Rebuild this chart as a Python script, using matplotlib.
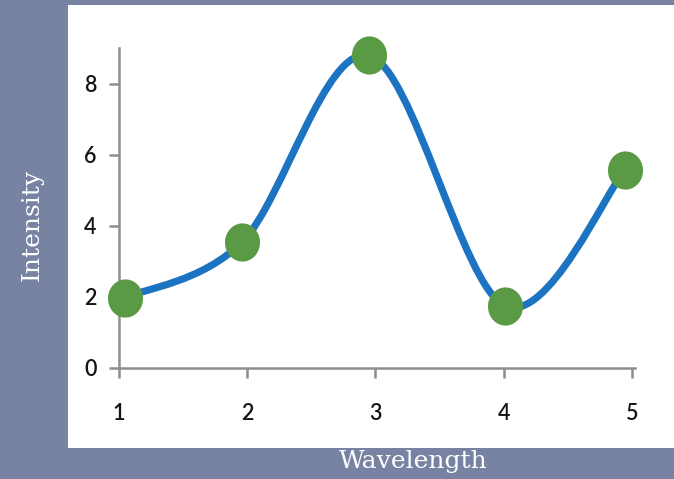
import matplotlib

matplotlib.use("Agg")
import matplotlib.pyplot as plt
import numpy as np
from matplotlib.patches import PathPatch, Rectangle
from matplotlib.path import Path

# Measured spectrum points
wavelength = [1.05, 1.96, 2.95, 4.01, 4.95]
intensity = [1.98, 3.54, 8.79, 1.75, 5.58]
x_ticks = [1, 2, 3, 4, 5]
y_ticks = [0, 2, 4, 6, 8]

BG = "#7883a4"
LINE = "#1b73c2"
DOT = "#5b9a44"
AXIS = "#8e8e8e"


def smooth_path(xs, ys):
    """Catmull-Rom style bezier through the points (like a smoothed line)."""
    pts = np.column_stack([xs, ys])
    ext = np.vstack([pts[0], pts, pts[-1]])
    verts = [pts[0]]
    codes = [Path.MOVETO]
    for i in range(len(pts) - 1):
        p0, p1, p2, p3 = ext[i], ext[i + 1], ext[i + 2], ext[i + 3]
        verts += [p1 + (p2 - p0) / 6, p2 - (p3 - p1) / 6, p2]
        codes += [Path.CURVE4] * 3
    return Path(verts, codes)


fig = plt.figure(figsize=(6.74, 4.79), dpi=100)
fig.patch.set_facecolor(BG)

# white chart panel
W, H = 674, 479
fig.patches.append(Rectangle((68 / W, 1 - 448 / H), 606 / W, 443 / H,
                             transform=fig.transFigure, facecolor="white",
                             edgecolor="none", zorder=-1))

ax = fig.add_axes([119 / W, 1 - 368 / H, 516 / W, 320 / H])
ax.set_zorder(1)
ax.set_facecolor("none")
ax.set_xlim(1, 5.025)
ax.set_ylim(0, 9)

for side in ("top", "right"):
    ax.spines[side].set_visible(False)
for side in ("left", "bottom"):
    ax.spines[side].set_color(AXIS)
    ax.spines[side].set_linewidth(1.8)

ax.set_xticks(x_ticks)
ax.set_yticks(y_ticks)
ax.tick_params(direction="out", length=7, width=1.8, color=AXIS,
               labelsize=15.5, labelcolor="#151515")
ax.tick_params(axis="x", pad=18)
ax.tick_params(axis="y", pad=9)
for lbl in ax.get_xticklabels() + ax.get_yticklabels():
    lbl.set_family("Lato")
    lbl.set_weight("semibold")

curve = PathPatch(smooth_path(wavelength, intensity), facecolor="none",
                  edgecolor=LINE, linewidth=5.2, capstyle="round",
                  joinstyle="round", clip_on=False, zorder=3)
ax.add_patch(curve)

# slightly tall oval markers
t = np.linspace(0, 2 * np.pi, 60)
oval = Path(np.column_stack([np.cos(t), 1.09 * np.sin(t)]))
ax.plot(wavelength, intensity, linestyle="none", marker=oval, markersize=27.5,
        markerfacecolor=DOT, markeredgecolor="none", clip_on=False, zorder=4)

fig.text(413 / W, 1 - 468 / H, "Wavelength", color="white", fontsize=18,
         family="DejaVu Serif", ha="center", va="baseline")
fig.text(32 / W, 1 - 225 / H, "Intensity", color="white", fontsize=18,
         family="DejaVu Serif", ha="center", va="center", rotation=90)

fig.savefig("out.png", dpi=100, facecolor=BG)
